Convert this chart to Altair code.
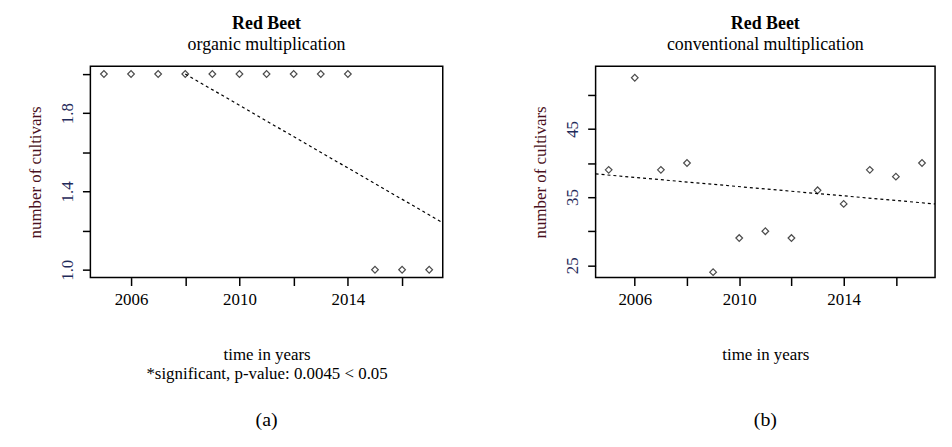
import pandas as pd
import altair as alt

years = list(range(2005, 2018))
organic = [2, 2, 2, 2, 2, 2, 2, 2, 2, 2, 1, 1, 1]
conventional = [39, 52.5, 39, 40, 24, 29, 30, 29, 36, 34, 39, 38, 40]
organic_trend_x = [2008, 2017.5]
organic_trend_y = [2.0, 1.24]
conv_trend_x = [2004.5, 2017.5]
conv_trend_y = [38.4, 34.0]

FONT = "Liberation Serif"


def panel(values, trend_x, trend_y, ydomain, yticks, ylabels, subtitle, xtitle, caption, width):
    df = pd.DataFrame({"year": years, "n": values})
    tr = pd.DataFrame({"year": trend_x, "n": trend_y})
    x = alt.X("year:Q", scale=alt.Scale(domain=[2004.5, 2017.5], nice=False, zero=False),
              axis=alt.Axis(values=list(range(2006, 2018, 2)),
                            labelExpr="indexof([2006,2010,2014], datum.value) >= 0 ? datum.value : ''",
                            title=xtitle, titlePadding=40, titleFontWeight="normal",
                            format="d", grid=False, domain=False, tickSize=8, labelPadding=6))
    ylab = "indexof(%s, datum.value) >= 0 ? datum.label : ''" % str(ylabels)
    y = alt.Y("n:Q", scale=alt.Scale(domain=ydomain, nice=False, zero=False),
              axis=alt.Axis(values=yticks, labelExpr=ylab, labelAngle=-90, labelAlign="center",
                            labelBaseline="bottom", title="number of cultivars",
                            titleFontWeight="normal", grid=False, domain=False, tickSize=8,
                            labelPadding=6, titlePadding=14, labelColor="#1f2a5a",
                            titleColor="#4a1020"))
    pts = alt.Chart(df).mark_point(shape="diamond", filled=False, color="black", size=45,
                                   strokeWidth=1.2).encode(x=x, y=y)
    line = alt.Chart(tr).mark_line(color="black", strokeDash=[3, 3], strokeWidth=1.2).encode(x=x, y=y)
    cap = alt.Chart(pd.DataFrame({"t": [caption]})).mark_text(
        font=FONT, fontSize=20, color="black").encode(
        text="t:N", x=alt.value(width / 2), y=alt.value(357))
    return (line + pts + cap).properties(
        width=width, height=213,
        title=alt.TitleParams("Red Beet", subtitle=subtitle, font=FONT, fontSize=18,
                              subtitleFont=FONT, subtitleFontSize=18, subtitleColor="black",
                              anchor="middle", offset=12))


left = panel(organic, organic_trend_x, organic_trend_y, [0.96, 2.04],
             [1.0, 1.2, 1.4, 1.6, 1.8, 2.0], [1.0, 1.4, 1.8], "organic multiplication",
             ["time in years", "*significant, p-value:  0.0045  < 0.05"], "(a)", 355)
right = panel(conventional, conv_trend_x, conv_trend_y, [23.2, 54.2],
              [25, 30, 35, 40, 45, 50], [25, 35, 45], "conventional multiplication",
              "time in years", "(b)", 342)

chart = alt.hconcat(left, right, spacing=85, padding={"left": 18, "top": 5, "right": 5, "bottom": 5}).configure_view(
    stroke="black", strokeWidth=1.5).configure_axis(
    labelFont=FONT, titleFont=FONT, labelFontSize=17, titleFontSize=17,
    labelColor="black", titleColor="black", tickColor="black", tickWidth=1.5)

chart.save("out.html", embed_options={"renderer": "svg", "actions": False})
